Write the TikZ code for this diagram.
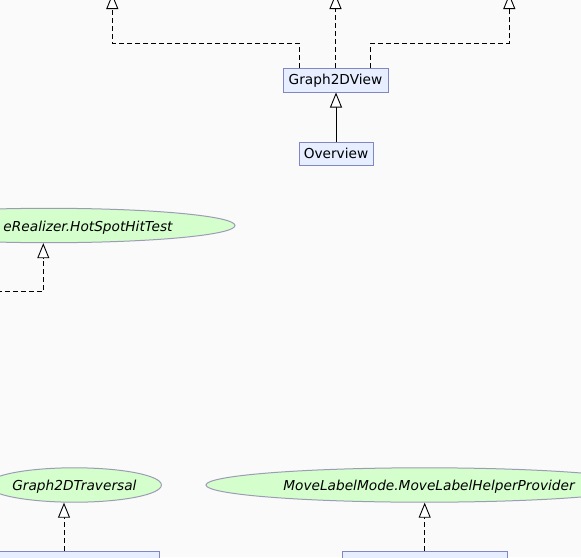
\documentclass[tikz,border=0pt]{standalone}
\usepackage{fontspec}
\setmainfont{DejaVu Sans}
\usetikzlibrary{arrows.meta,shapes.geometric}
\definecolor{bg}{HTML}{FAFAFA}
\definecolor{boxfill}{HTML}{E6EEFF}
\definecolor{boxdraw}{HTML}{8088C4}
\definecolor{ifill}{HTML}{D4FFCC}
\definecolor{idraw}{HTML}{9C9CB4}
\tikzset{
  cls/.style={draw=boxdraw, fill=boxfill, line width=1pt, inner sep=0pt,
    font=\fontsize{13.7pt}{16pt}\selectfont},
  iface/.style={ellipse, draw=idraw, fill=ifill, line width=1pt, inner sep=0pt, minimum height=34.4pt},
  itext/.style={inner sep=0pt, font=\fontsize{13.7pt}{16pt}\selectfont\itshape},
  tip/.style={-{Triangle[open, length=15pt, width=12pt, line width=0.9pt, fill=white]}},
  impl/.style={tip, line width=0.9pt, dash pattern=on 5pt off 3pt},
  inh/.style={tip, line width=0.9pt}
}
\begin{document}
\begin{tikzpicture}[x=1pt, y=-1pt]
  \fill[bg] (0,0) rectangle (581,557);
  \useasboundingbox (0,0) rectangle (581,557);
  \clip (0,0) rectangle (581,557);

  % classes
  \node[cls, minimum width=105pt, minimum height=24pt, text height=16.8pt, text depth=7.2pt] (g2d) at (335.5,80) {Graph2DView};
  \node[cls, minimum width=74pt, minimum height=23pt, text height=16pt, text depth=7pt] (ov) at (336,153.5) {Overview};
  \node[cls, minimum width=190pt, minimum height=24pt] (b1) at (64,563) {};
  \node[cls, minimum width=165pt, minimum height=24pt] (b2) at (424.7,563) {};

  % interfaces
  \node[iface, minimum width=372pt] (hs) at (49,225.5) {};
  \node[itext, anchor=base] (hst) at (88,231) {eRealizer.HotSpotHitTest};
  \node[iface, minimum width=174pt] (tr) at (74.4,485) {};
  \node[itext, anchor=base] (trt) at (74.4,490.5) {Graph2DTraversal};
  \node[iface, minimum width=437pt] (ml) at (424.5,485) {};
  \node[itext, anchor=base] (mlt) at (429,490) {MoveLabelMode.MoveLabelHelperProvider};

  % coordinates for free ends
  \coordinate (t1) at (112.3,-6);
  \coordinate (t2) at (335.5,-6);
  \coordinate (t3) at (509.3,-6);
  \coordinate (k1) at (112.3,43.3);
  \coordinate (k3) at (509.3,43.3);
  \coordinate (f1) at (-3,291.7);
  \coordinate (k4) at (43.3,291.7);

  % connectors
  \draw[impl] ([xshift=17pt]g2d.north west) |- (k1) -- (t1);
  \draw[impl] (g2d.north) -- (t2);
  \draw[impl] ([xshift=-18pt]g2d.north east) |- (k3) -- (t3);
  \draw[inh] (ov.north) -- (ov.north |- g2d.south);
  \draw[impl] (f1) -- (k4) -- (k4 |- hs.south);
  \draw[impl] (b1.north) -- (b1.north |- tr.south);
  \draw[impl] (b2.north) -- (b2.north |- ml.south);
\end{tikzpicture}
\end{document}
